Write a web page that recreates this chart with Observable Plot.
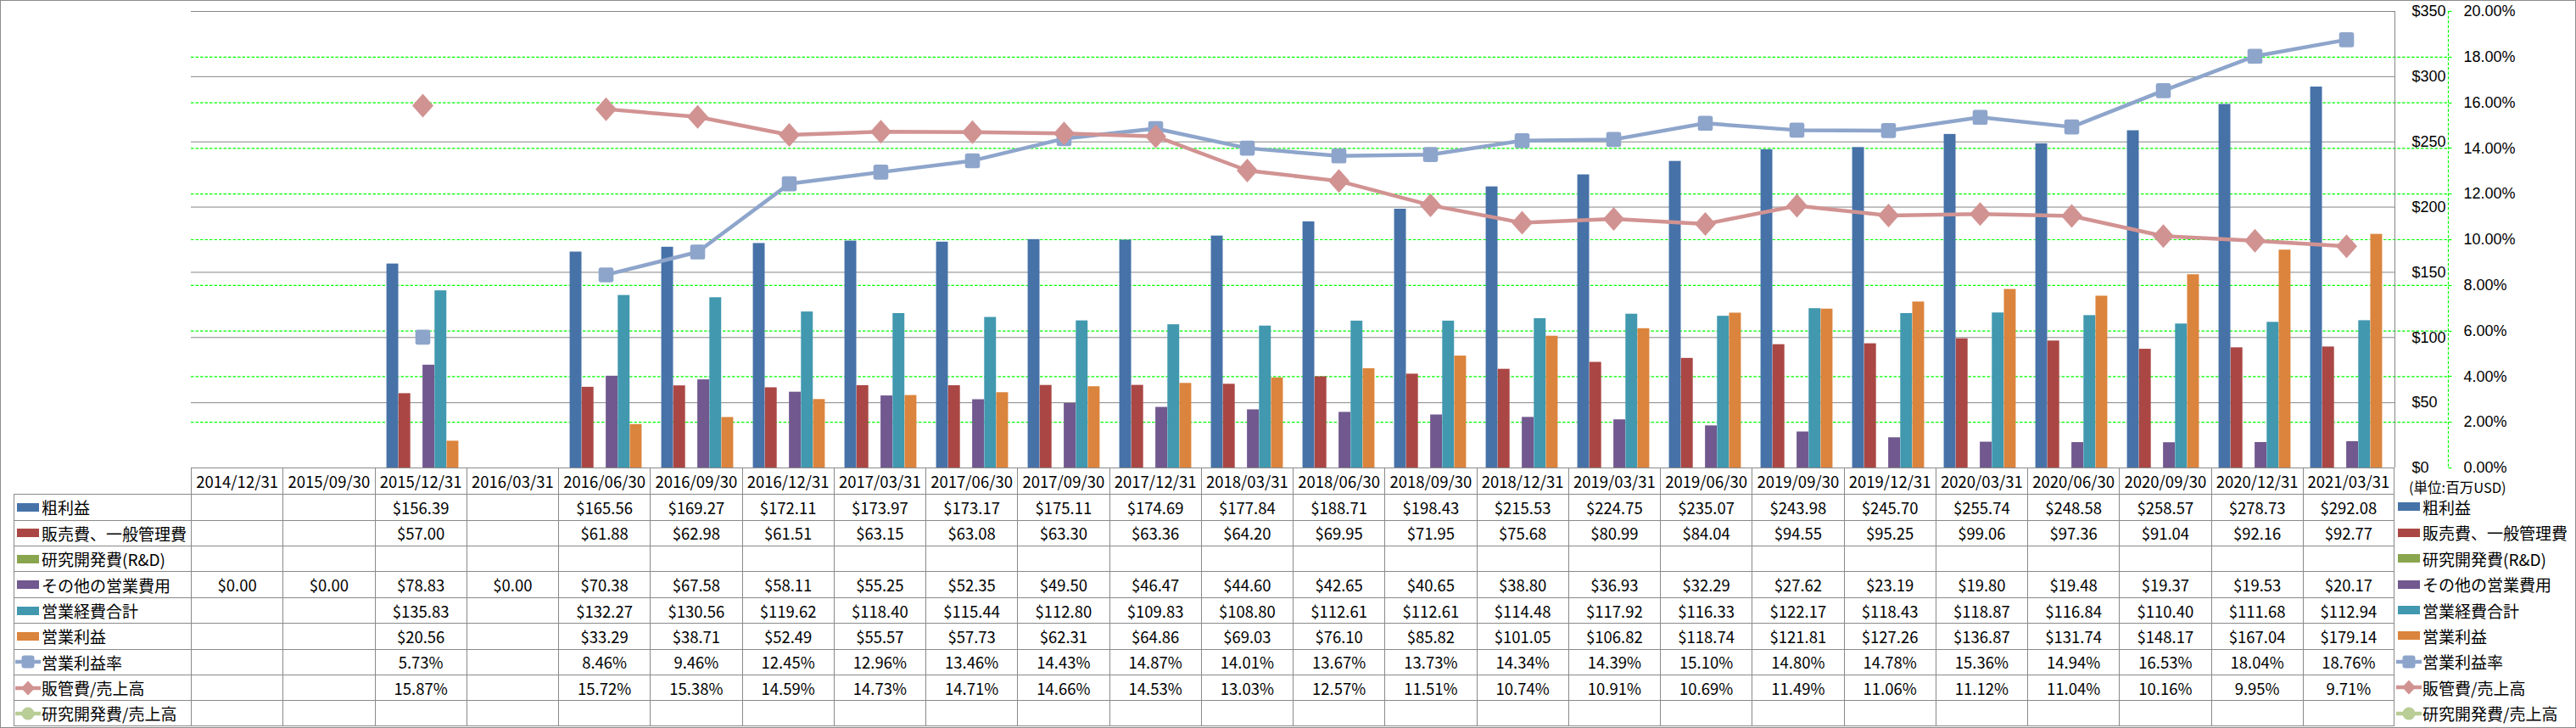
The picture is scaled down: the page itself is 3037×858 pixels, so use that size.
<!DOCTYPE html>
<html>
<head>
<meta charset="utf-8">
<script src="https://cdn.jsdelivr.net/npm/d3@7"></script>
<script src="https://cdn.jsdelivr.net/npm/@observablehq/plot@0.6"></script>
<style>
html, body { margin: 0; padding: 0; background: #fff; }
#chart { position: relative; width: 3037px; height: 858px; overflow: hidden; font-family: "Noto Sans CJK JP", sans-serif; color: #000; background: #fff; }
#plot { position: absolute; left: 0; top: 0; }
#frame { position: absolute; left: 0; top: 0; width: 3037px; height: 858px; box-sizing: border-box; border: 1px solid #8c8c8c; pointer-events: none; }
#table { position: absolute; left: 0; top: 551px; display: grid;
  grid-template-columns: 16px 209px repeat(24, 108.25px) 214px;
  grid-template-rows: 31.3px repeat(9, 30.4px); }
.c { box-sizing: border-box; display: flex; align-items: center; white-space: nowrap; overflow: visible; }
.v { justify-content: center; font-size: 18.5px; }
.bl { border-left: 1px solid #8a8a8a; }
.bt { border-top: 1px solid #8a8a8a; }
.br { border-right: 1px solid #8a8a8a; }
.bb { border-bottom: 1px solid #8a8a8a; }
.lg { font-size: 19px; padding-left: 1px; }
.lg svg, .rl svg { flex: none; margin-right: 1px; }
.rl { font-size: 19px; padding-left: 2px; }
.unit { font-size: 16.5px; padding-left: 17px; padding-top: 14px; }
</style>
</head>
<body>
<div id="chart">
  <div id="table"></div>
  <div id="plot"></div>
  <div id="frame"></div>
</div>
<script>
// ---- data ----
const dates = ["2014/12/31","2015/09/30","2015/12/31","2016/03/31","2016/06/30","2016/09/30","2016/12/31","2017/03/31","2017/06/30","2017/09/30","2017/12/31","2018/03/31","2018/06/30","2018/09/30","2018/12/31","2019/03/31","2019/06/30","2019/09/30","2019/12/31","2020/03/31","2020/06/30","2020/09/30","2020/12/31","2021/03/31"];

const grossProfit = [null,null,156.39,null,165.56,169.27,172.11,173.97,173.17,175.11,174.69,177.84,188.71,198.43,215.53,224.75,235.07,243.98,245.70,255.74,248.58,258.57,278.73,292.08];
const sgaExpense  = [null,null,57.00,null,61.88,62.98,61.51,63.15,63.08,63.30,63.36,64.20,69.95,71.95,75.68,80.99,84.04,94.55,95.25,99.06,97.36,91.04,92.16,92.77];
const rdExpense   = [null,null,null,null,null,null,null,null,null,null,null,null,null,null,null,null,null,null,null,null,null,null,null,null];
const otherOpex   = [0.00,0.00,78.83,0.00,70.38,67.58,58.11,55.25,52.35,49.50,46.47,44.60,42.65,40.65,38.80,36.93,32.29,27.62,23.19,19.80,19.48,19.37,19.53,20.17];
const totalOpex   = [null,null,135.83,null,132.27,130.56,119.62,118.40,115.44,112.80,109.83,108.80,112.61,112.61,114.48,117.92,116.33,122.17,118.43,118.87,116.84,110.40,111.68,112.94];
const opIncome    = [null,null,20.56,null,33.29,38.71,52.49,55.57,57.73,62.31,64.86,69.03,76.10,85.82,101.05,106.82,118.74,121.81,127.26,136.87,131.74,148.17,167.04,179.14];
const opMargin    = [null,null,5.73,null,8.46,9.46,12.45,12.96,13.46,14.43,14.87,14.01,13.67,13.73,14.34,14.39,15.10,14.80,14.78,15.36,14.94,16.53,18.04,18.76];
const sgaRatio    = [null,null,15.87,null,15.72,15.38,14.59,14.73,14.71,14.66,14.53,13.03,12.57,11.51,10.74,10.91,10.69,11.49,11.06,11.12,11.04,10.16,9.95,9.71];
const rdRatio     = [null,null,null,null,null,null,null,null,null,null,null,null,null,null,null,null,null,null,null,null,null,null,null,null];

const seriesNames  = ["粗利益","販売費、一般管理費","研究開発費(R&D)","その他の営業費用","営業経費合計","営業利益","営業利益率","販管費/売上高","研究開発費/売上高"];
const seriesColors = ["#4672A8","#AA4744","#89A54E","#71588F","#4198AF","#DB843D","#8EA5CB","#D19392","#B9CD96"];
const seriesKinds  = ["bar","bar","bar","bar","bar","bar","pct","pct","pct"];
const seriesData   = [grossProfit, sgaExpense, rdExpense, otherOpex, totalOpex, opIncome, opMargin, sgaRatio, rdRatio];

const dollarTicks = [0,50,100,150,200,250,300,350];
const pctTicks    = [0,2,4,6,8,10,12,14,16,18,20];
const unitLabel = "(単位:百万USD)";

// ---- chart ----
const W = 3037, H = 551;
const mL = 225, mR = 214, mT = 13;
const pctScale = 350 / 20;           // 20% on the right axis == $350 on the left
const bw = (W - mL - mR) / dates.length;
const groupPad = 0.107 * bw;
const barW = (bw - 2 * groupPad) / 6;

const roundSquare = {
  draw(ctx, size) {
    const r = Math.sqrt(size / Math.PI), c = r * 0.3;
    ctx.moveTo(-r + c, -r);
    ctx.lineTo(r - c, -r); ctx.arcTo(r, -r, r, -r + c, c);
    ctx.lineTo(r, r - c); ctx.arcTo(r, r, r - c, r, c);
    ctx.lineTo(-r + c, r); ctx.arcTo(-r, r, -r, r - c, c);
    ctx.lineTo(-r, -r + c); ctx.arcTo(-r, -r, -r + c, -r, c);
    ctx.closePath();
  }
};
const tallDiamond = {
  draw(ctx, size) {
    const r = Math.sqrt(size / Math.PI);
    ctx.moveTo(0, -r * 1.12); ctx.lineTo(r, 0); ctx.lineTo(0, r * 1.12); ctx.lineTo(-r, 0); ctx.closePath();
  }
};

const barMarks = [0,1,2,3,4,5].map(k =>
  Plot.barY(
    dates.map((d, i) => ({date: d, v: seriesData[k][i]})).filter(d => d.v != null),
    {x: "date", y: "v", fill: seriesColors[k],
     insetLeft: groupPad + k * barW, insetRight: bw - groupPad - (k + 1) * barW}
  )
);

function pctRows(arr) {
  return dates.map((d, i) => ({date: d, v: arr[i] == null ? NaN : arr[i] * pctScale}));
}

const axisDecor = (index, scales, values, dims) => {
  const y = scales.y;
  const xr = dims.width - dims.marginRight;
  const g = d3.create("svg:g");
  g.append("line").attr("x1", xr + 0.5).attr("x2", xr + 0.5)
    .attr("y1", y(350)).attr("y2", y(0)).attr("stroke", "#868686");
  const xa = xr + 63.5;
  g.append("line").attr("x1", xa).attr("x2", xa)
    .attr("y1", y(350)).attr("y2", y(0))
    .attr("stroke", "#00FF00").attr("stroke-width", 1.2).attr("stroke-dasharray", "3.5,2");
  pctTicks.forEach(p => {
    const yy = Math.round(y(p * pctScale)) + 0.5;
    g.append("line").attr("x1", xa).attr("x2", xa + 4).attr("y1", yy).attr("y2", yy)
      .attr("stroke", "#00FF00").attr("stroke-width", 1.2);
  });
  return g.node();
};

const plot = Plot.plot({
  width: W, height: H,
  marginLeft: mL, marginRight: mR, marginTop: mT, marginBottom: 0,
  style: {overflow: "visible", background: "transparent", fontFamily: "'Liberation Sans', Arial, sans-serif", fontSize: "18px", color: "#000", maxWidth: "none"},
  x: {type: "band", domain: dates, padding: 0, axis: null},
  y: {domain: [0, 350], axis: null},
  marks: [
    Plot.ruleY(pctTicks.filter(p => p > 0 && p < 20).map(p => p * pctScale),
      {stroke: "#00FF00", strokeWidth: 1.2, strokeDasharray: "3.5,2", insetRight: -63}),
    Plot.ruleY(dollarTicks.filter(d => d > 0), {stroke: "#868686"}),
    ...barMarks,
    Plot.lineY(pctRows(opMargin), {x: "date", y: "v", stroke: seriesColors[6], strokeWidth: 4.5}),
    Plot.lineY(pctRows(sgaRatio), {x: "date", y: "v", stroke: seriesColors[7], strokeWidth: 4.5}),
    Plot.dot(pctRows(opMargin).filter(d => !isNaN(d.v)),
      {x: "date", y: "v", symbol: roundSquare, r: 8.8, fill: seriesColors[6], stroke: "none"}),
    Plot.dot(pctRows(sgaRatio).filter(d => !isNaN(d.v)),
      {x: "date", y: "v", symbol: tallDiamond, r: 12.5, fill: seriesColors[7], stroke: "none"}),
    axisDecor,
    Plot.axisY(dollarTicks, {anchor: "right", tickSize: 0, tickPadding: 20, textAnchor: "start",
      tickFormat: d => "$" + d, label: null, fontSize: 18}),
    Plot.axisY(pctTicks.map(p => p * pctScale), {anchor: "right", tickSize: 0, tickPadding: 81, textAnchor: "start",
      tickFormat: d => (d / pctScale).toFixed(2) + "%", label: null, fontSize: 18})
  ]
});
document.getElementById("plot").appendChild(plot);

// ---- data table ----
function keySvg(k) {
  const c = seriesColors[k];
  if (seriesKinds[k] === "bar")
    return `<svg width="30" height="20"><rect x="2" y="5" width="26" height="10" fill="${c}"/></svg>`;
  const line = `<line x1="0" x2="30" y1="10" y2="10" stroke="${c}" stroke-width="4.5"/>`;
  let m;
  if (k === 6) m = `<rect x="7.5" y="2.5" width="15" height="15" rx="3" fill="${c}"/>`;
  else if (k === 7) m = `<polygon points="15,1.5 23,10 15,18.5 7,10" fill="${c}"/>`;
  else m = `<circle cx="15" cy="10" r="7.5" fill="${c}"/>`;
  return `<svg width="30" height="20">${line}${m}</svg>`;
}
function fmt(k, v) {
  if (v == null) return "";
  return seriesKinds[k] === "bar" ? "$" + v.toFixed(2) : v.toFixed(2) + "%";
}
const table = document.getElementById("table");
function add(cls, html) {
  const d = document.createElement("div");
  d.className = "c " + cls;
  d.innerHTML = html;
  table.appendChild(d);
}
const nRows = seriesNames.length;
// header row
add("", ""); add("", "");
dates.forEach((d, j) => add("v bl bt" + (j === dates.length - 1 ? " br" : ""), d));
add("unit", unitLabel);
// series rows
seriesNames.forEach((name, k) => {
  const last = k === nRows - 1 ? " bb" : "";
  add("", "");
  add("lg bl bt" + last, keySvg(k) + "<span>" + name + "</span>");
  dates.forEach((d, j) => add("v bl bt" + last + (j === dates.length - 1 ? " br" : ""), fmt(k, seriesData[k][j])));
  add("rl", keySvg(k) + "<span>" + name + "</span>");
});
</script>
</body>
</html>
